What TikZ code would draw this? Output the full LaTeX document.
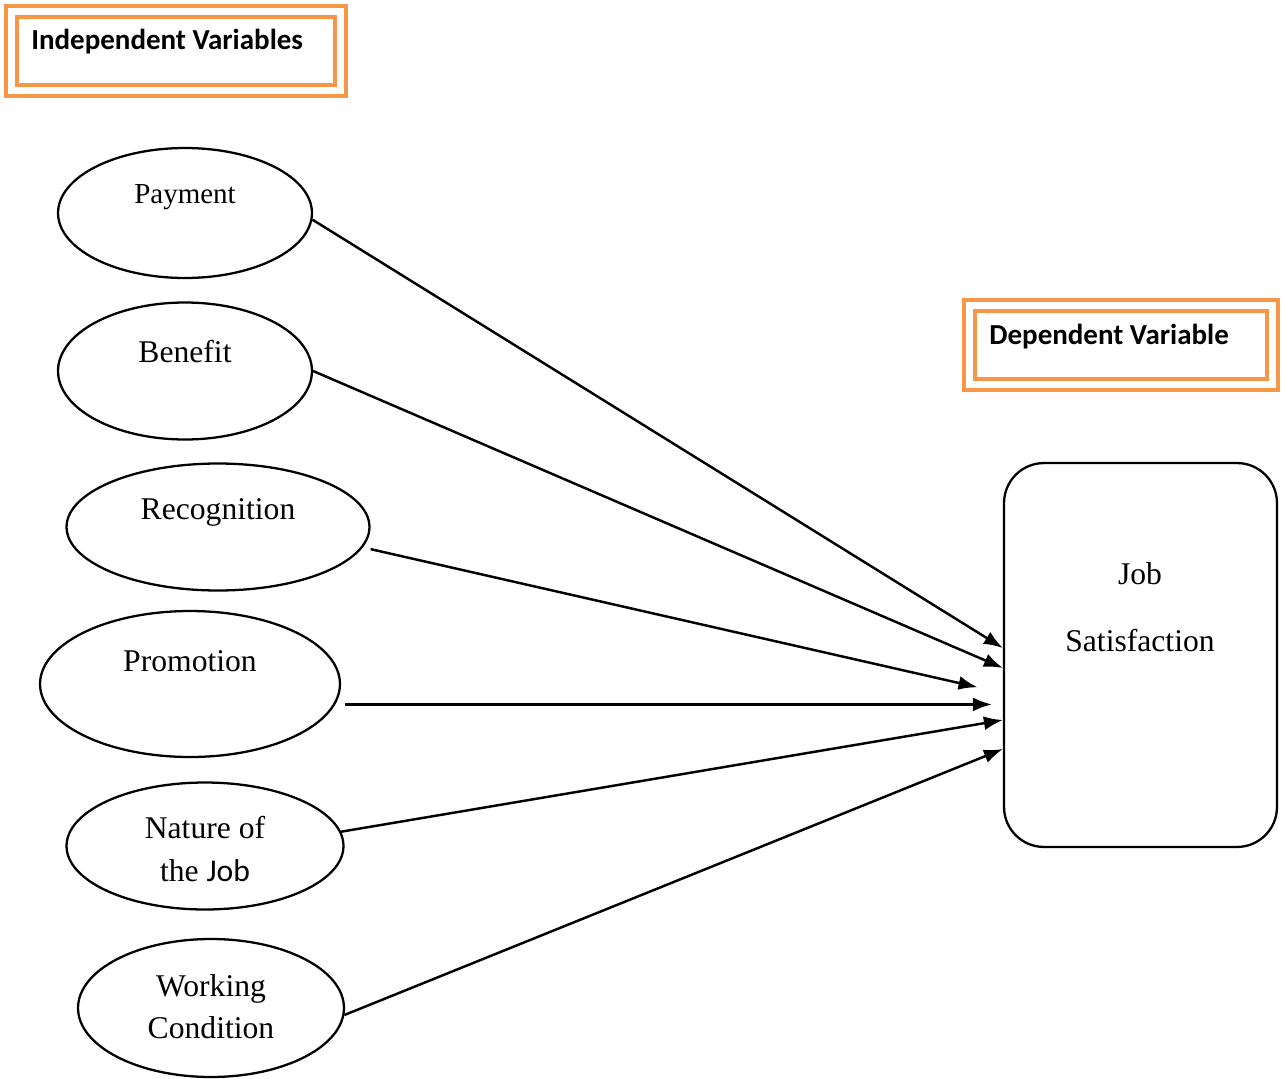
\documentclass[tikz,border=0pt]{standalone}
\usepackage{fontspec}
\setmainfont{Liberation Serif}
\newfontfamily\calibri{Carlito}
\usepackage{tikz}
\usetikzlibrary{arrows.meta,calc,shapes.geometric}
\definecolor{boxorange}{HTML}{F79646}

\tikzset{
  var/.style={ellipse,draw=black,line width=1.3pt,inner sep=0pt},
  vartext/.style={font=\fontsize{18}{21}\selectfont,align=center,inner sep=0pt},
  dep/.style={rectangle,rounded corners=0.8cm,draw=black,line width=1.3pt,
    minimum width=5.46cm,minimum height=7.68cm},
  orangebox/.style={rectangle,draw=boxorange,line width=0.09cm,double=white,
    double distance=0.13cm,inner sep=0pt},
  headtext/.style={font=\calibri\bfseries\fontsize{16.5}{19}\selectfont,inner sep=0pt},
  link/.style={-{Latex[length=0.38cm,width=0.28cm]},line width=1.4pt}
}

\begin{document}
\begin{tikzpicture}[x=0.02cm,y=-0.02cm]
        \useasboundingbox (0,0) rectangle (1287,1078);
        % headings
        \node[orangebox,minimum width=6.58cm,minimum height=1.58cm] (indep) at (176,51) {};
        \node[headtext,anchor=west] (indepT) at (31,42) {Independent Variables};
        \node[orangebox,minimum width=6.07cm,minimum height=1.59cm] (depbox) at (1121,345) {};
        \node[headtext,anchor=west] (depT) at (989,337) {Dependent Variable};
        % independent variables
        \node[var,minimum width=5.08cm,minimum height=2.6cm] (pay) at (185,213) {};
        \node[vartext,font=\fontsize{16.5}{20}\selectfont] (payT) at (185,197) {Payment};
        \node[var,minimum width=5.08cm,minimum height=2.74cm] (ben) at (185,371) {};
        \node[vartext] (benT) at (185,352) {Benefit};
        \node[var,minimum width=6.06cm,minimum height=2.54cm] (rec) at (218,527) {};
        \node[vartext] (recT) at (218,512) {Recognition};
        \node[var,minimum width=6.0cm,minimum height=2.92cm] (pro) at (190,684) {};
        \node[vartext] (proT) at (190,661) {Promotion};
        \node[var,minimum width=5.54cm,minimum height=2.54cm] (nat) at (205,846) {};
        \node[vartext] (natT) at (205,849) {Nature of\\[3pt]the {\calibri Job}};
        \node[var,minimum width=5.32cm,minimum height=2.76cm] (wrk) at (211,1008) {};
        \node[vartext] (wrkT) at (211,1007) {Working\\[3pt]Condition};
        % dependent variable
        \node[dep] (js) at (1140.5,655) {};
        \node[vartext] (jsT) at (1140,607) {Job\\[17pt]Satisfaction};
        % links
        \draw[link] (pay.-3) -- (js.west |- 0,648);
        \draw[link] (ben.east) -- (js.west |- 0,668);
        \draw[link,shorten <=0.16cm,shorten >=0.52cm] (rec.-8) -- (js.west |- 0,693);
        \draw[link,shorten <=0.2cm,shorten >=0.22cm] (pro.-8) -- (js.west |- pro.-8);
        \draw[link] (nat.6) -- (js.west |- 0,720);
        \draw[link] (wrk.-3) -- (js.west |- 0,749);
      \end{tikzpicture}
\end{document}
